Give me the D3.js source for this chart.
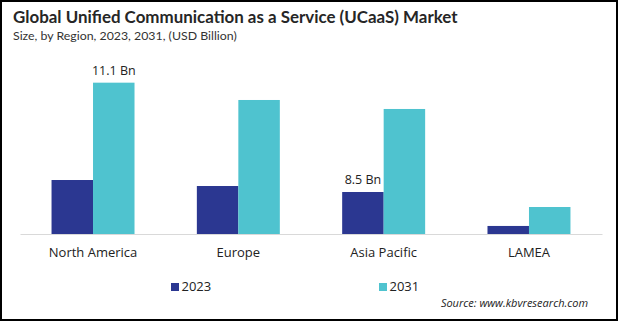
<!DOCTYPE html>
<html>
<head>
<meta charset="utf-8">
<script src="https://cdn.jsdelivr.net/npm/d3@7"></script>
<style>
  html, body { margin: 0; padding: 0; background: #fff; }
  svg { display: block; }
</style>
</head>
<body>
<script>
const categories = ["North America", "Europe", "Asia Pacific", "LAMEA"];
const seriesNames = ["2023", "2031"];
const values2023 = [3.96, 3.52, 3.08, 0.59];
const values2031 = [11.1, 9.83, 9.17, 1.98];
const seriesColors = ["#2B3791", "#4FC3CF"];
const valueLabels = [
  { category: "North America", series: "2031", text: "11.1 Bn" },
  { category: "Asia Pacific", series: "2023", text: "8.5 Bn" }
];
const titleText = "Global Unified Communication as a Service (UCaaS) Market";
const subtitleText = "Size, by Region, 2023, 2031, (USD Billion)";
const sourceText = "Source: www.kbvresearch.com";

const W = 619, H = 322;
const svg = d3.select("body").append("svg").attr("width", W).attr("height", H);

svg.append("rect").attr("x", 0).attr("y", 0).attr("width", W).attr("height", H).attr("fill", "#fff");
svg.append("rect").attr("x", 1).attr("y", 1).attr("width", W - 3).attr("height", H - 3)
  .attr("fill", "none").attr("stroke", "#000").attr("stroke-width", 2);

function fit(sel, target) {
  const node = sel.node();
  let fs = parseFloat(sel.attr("font-size"));
  const len = node.getComputedTextLength();
  if (len > 0) sel.attr("font-size", (fs * target / len).toFixed(2));
}

const title = svg.append("text").attr("x", 13).attr("y", 23)
  .attr("font-family", "Lato, 'Open Sans', sans-serif").attr("font-weight", "bold")
  .attr("font-size", 16).attr("fill", "#262626").text(titleText);
fit(title, 445);

const subtitle = svg.append("text").attr("x", 13).attr("y", 39.5)
  .attr("font-family", "Lato, 'Open Sans', sans-serif")
  .attr("font-size", 11).attr("fill", "#333").text(subtitleText);
fit(subtitle, 224);

const data = categories.map((c, i) => ({ category: c, "2023": values2023[i], "2031": values2031[i] }));

const x0 = d3.scaleBand().domain(categories).range([20, 602]).paddingInner(0.429).paddingOuter(0.217);
const x1 = d3.scaleBand().domain(seriesNames).range([0, x0.bandwidth()]).padding(0);
const y = d3.scaleLinear().domain([0, 12]).range([234, 70.4]);
const color = d3.scaleOrdinal().domain(seriesNames).range(seriesColors);

const groups = svg.append("g").selectAll("g").data(data).join("g")
  .attr("transform", d => `translate(${x0(d.category)},0)`);
groups.selectAll("rect").data(d => seriesNames.map(s => ({ series: s, value: d[s] })))
  .join("rect")
  .attr("x", d => x1(d.series))
  .attr("y", d => y(d.value))
  .attr("width", x1.bandwidth())
  .attr("height", d => y(0) - y(d.value))
  .attr("fill", d => color(d.series));

const axis = svg.append("g").attr("transform", `translate(0,${y(0)})`)
  .call(d3.axisBottom(x0).tickSize(0).tickPadding(14));
axis.select(".domain").attr("stroke", "#d9d9d9").attr("stroke-width", 1);
axis.selectAll("text").attr("font-family", "'Open Sans', sans-serif").attr("font-size", 13).attr("fill", "#222");

svg.append("g").selectAll("text").data(valueLabels).join("text")
  .attr("x", d => x0(d.category) + x1(d.series) + x1.bandwidth() / 2)
  .attr("y", d => {
    const row = data.find(r => r.category === d.category);
    return y(row[d.series]) - 8;
  })
  .attr("text-anchor", "middle")
  .attr("font-family", "'Open Sans', sans-serif").attr("font-size", 12.5).attr("fill", "#222")
  .text(d => d.text);

const legendX = [171, 379];
const legend = svg.append("g").selectAll("g").data(seriesNames).join("g")
  .attr("transform", (d, i) => `translate(${legendX[i]},283)`);
legend.append("rect").attr("width", 8).attr("height", 8).attr("fill", d => color(d));
legend.append("text").attr("x", 10.5).attr("y", 8)
  .attr("font-family", "'Open Sans', sans-serif").attr("font-size", 13).attr("fill", "#222")
  .text(d => d);

svg.append("text").attr("x", 588).attr("y", 307).attr("text-anchor", "end")
  .attr("font-family", "'Open Sans', sans-serif").attr("font-style", "italic")
  .attr("font-size", 11).attr("fill", "#222").text(sourceText);
</script>
</body>
</html>
